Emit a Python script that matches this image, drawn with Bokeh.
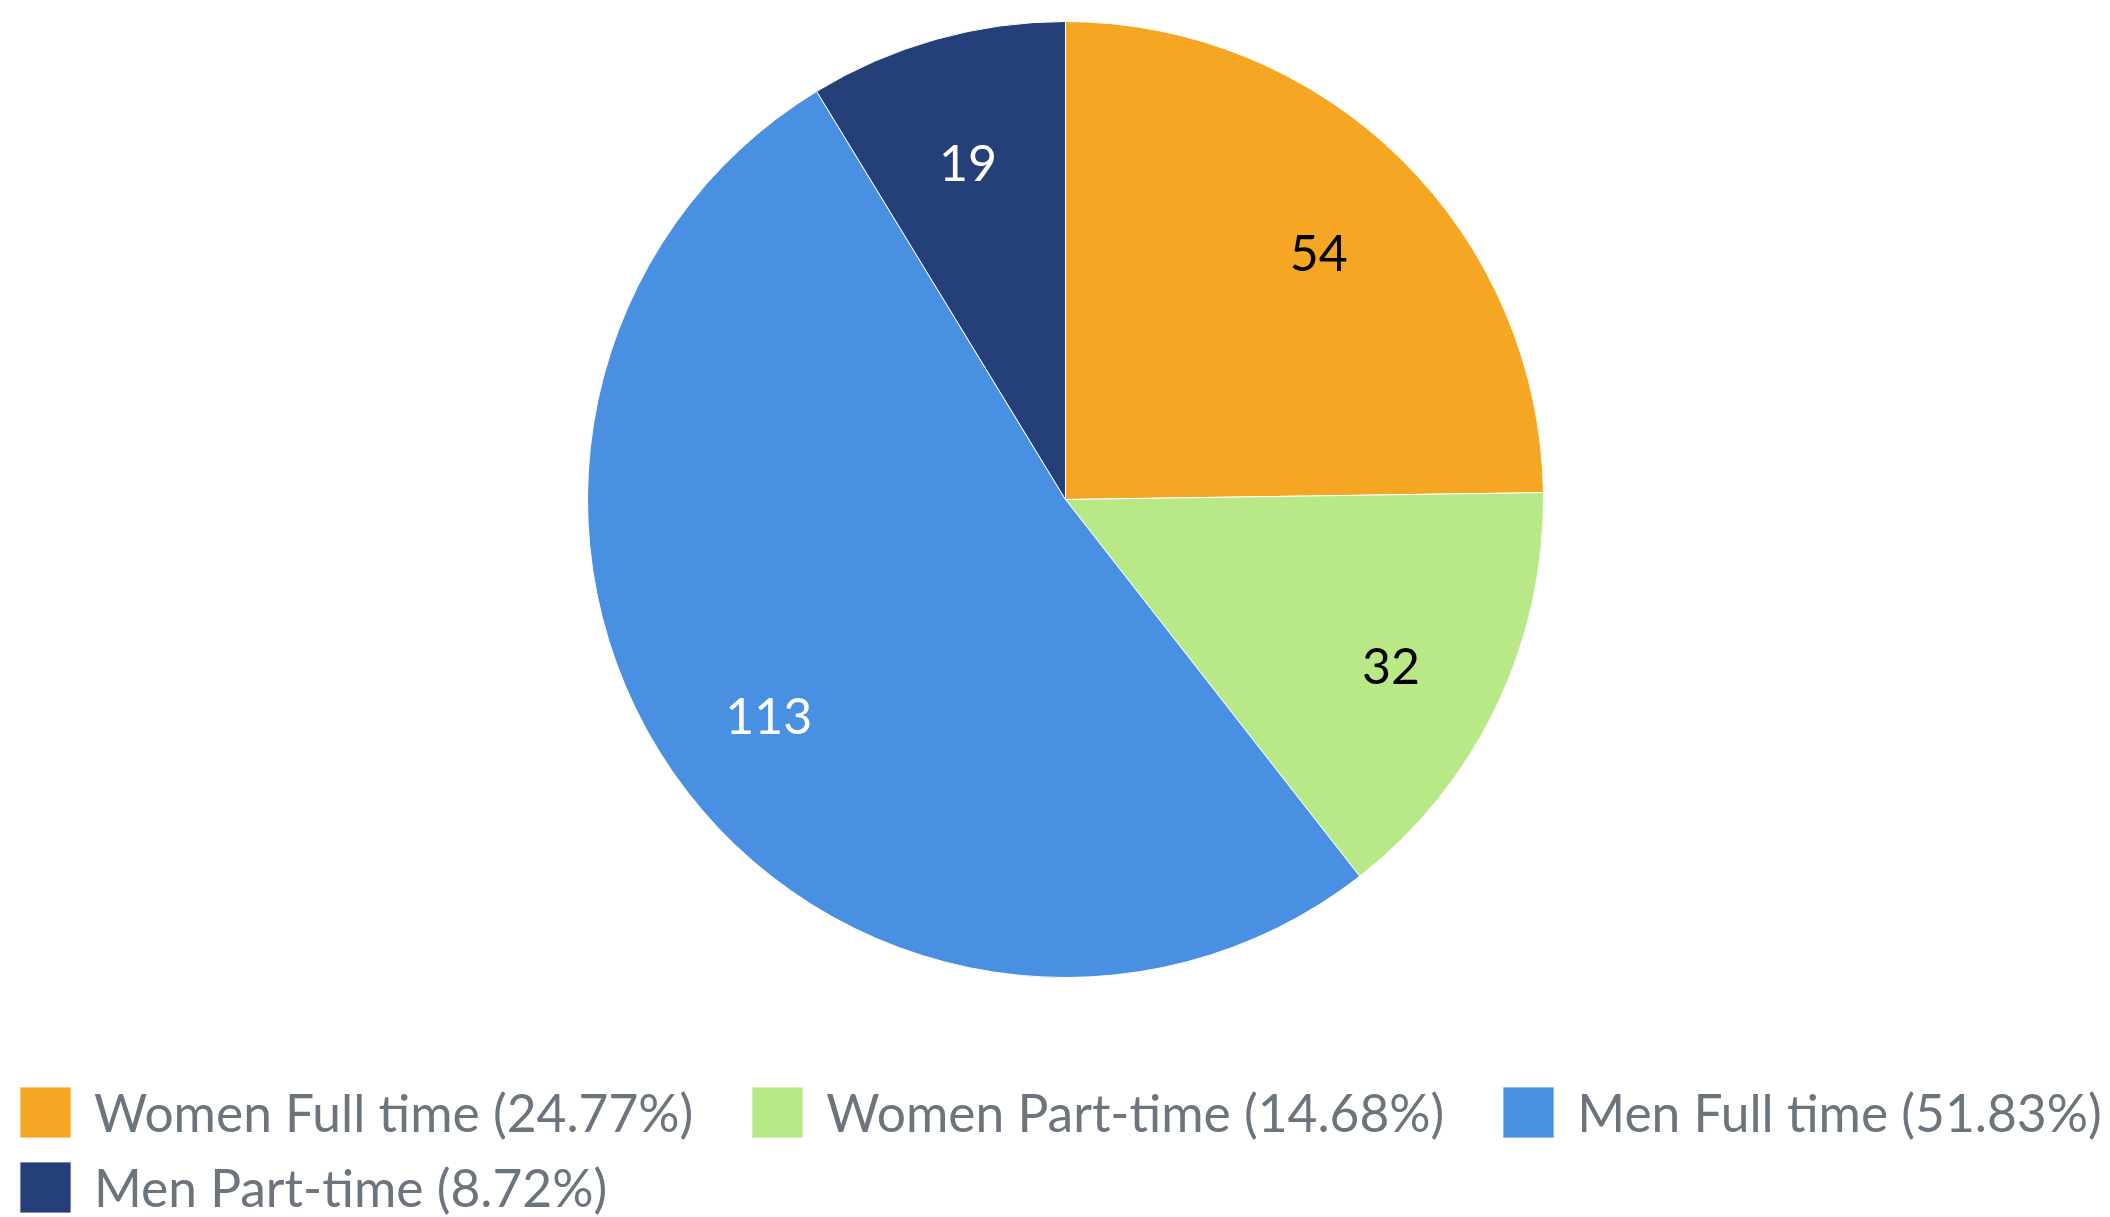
import math
from bokeh.plotting import figure
from bokeh.models import ColumnDataSource, Range1d, Legend, LegendItem
from bokeh.core.properties import value
from bokeh.embed import file_html
from bokeh.resources import INLINE

# ---- data ----
categories = ["Women Full time", "Women Part-time", "Men Full time", "Men Part-time"]
values = [54, 32, 113, 19]

# ---- styles ----
slice_colors = ["#F5A623", "#B8E986", "#4A90E2", "#253F78"]
label_colors = ["#000000", "#000000", "#FFFFFF", "#FFFFFF"]

W, H = 2110, 1217
cx, cy, R = 1065, 718, 478

total = sum(values)
starts, ends, lx, ly, legend_labels, texts = [], [], [], [], [], []
cum = 0.0
for v, c in zip(values, categories):
    a0 = math.pi / 2 - 2 * math.pi * cum / total
    cum += v
    a1 = math.pi / 2 - 2 * math.pi * cum / total
    starts.append(a0)
    ends.append(a1)
    mid = (a0 + a1) / 2
    lx.append(cx + 0.755 * R * math.cos(mid))
    ly.append(cy + 0.755 * R * math.sin(mid))
    legend_labels.append(f"{c} ({100 * v / total:.2f}%)")
    texts.append(str(v))

src = ColumnDataSource(dict(
    x=[cx] * len(values), y=[cy] * len(values),
    start=starts, end=ends, color=slice_colors,
    lx=lx, ly=ly, text=texts, tcolor=label_colors, label=legend_labels,
))

p = figure(width=W, height=H, x_range=Range1d(0, W), y_range=Range1d(0, H),
           output_backend="svg", toolbar_location=None, min_border=0,
           x_axis_type=None, y_axis_type=None)
p.grid.visible = False
p.outline_line_color = None
p.background_fill_color = "white"
p.border_fill_color = "white"

r = p.wedge(x="x", y="y", radius=R, start_angle="start", end_angle="end",
            direction="clock", fill_color="color", line_color="white",
            line_width=1, source=src)

p.text(x="lx", y="ly", text="text", text_color="tcolor", source=src,
       text_align="center", text_baseline="middle", y_offset=11,
       text_font=value("Lato"), text_font_size="50px")

def make_legend(idxs, bottom):
    items = [LegendItem(label=legend_labels[i], renderers=[r], index=i) for i in idxs]
    lg = Legend(items=items, location=(13, bottom), orientation="horizontal",
                glyph_width=64, glyph_height=64, label_standoff=17, spacing=52,
                padding=0, margin=0, border_line_color=None,
                background_fill_alpha=0,
                label_text_font="Lato", label_text_font_size="51.5px",
                label_text_color="#6C757D", label_text_baseline="middle")
    p.add_layout(lg, "center")

make_legend([0, 1, 2], 73)
make_legend([3], -2)

open("out.html", "w").write(file_html(p, INLINE))
